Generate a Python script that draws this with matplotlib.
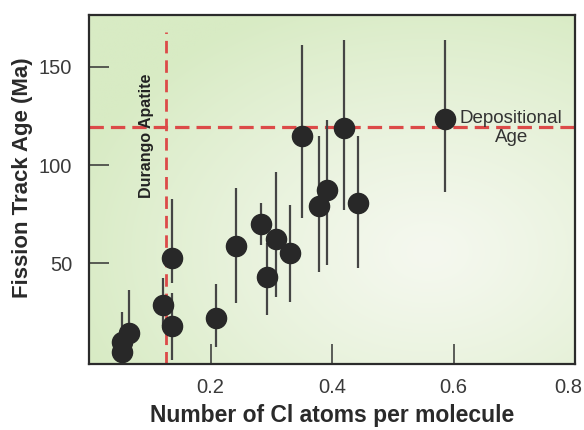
import numpy as np
import matplotlib
matplotlib.use("Agg")
import matplotlib.pyplot as plt
from matplotlib.colors import to_rgb
from matplotlib.transforms import ScaledTranslation

plt.rcParams['font.family'] = ['Liberation Sans', 'DejaVu Sans']

# Chlorine content and fission-track ages with their error-bar extents
cl_atoms = [0.055, 0.055, 0.066, 0.121, 0.137, 0.137, 0.209, 0.2415, 0.283,
            0.2935, 0.308, 0.331, 0.379, 0.392, 0.442, 0.351, 0.420, 0.586]
age_ma = [5.0, 10.1, 14.4, 28.8, 18.1, 52.8, 22.3, 58.8, 69.8,
          42.9, 62.4, 55.1, 79.1, 87.3, 80.8, 114.8, 118.7, 123.4]
age_low = [2.0, 0.0, 5.0, 18.0, 0.8, 40.0, 7.6, 29.7, 59.3,
           23.7, 33.0, 30.5, 45.7, 49.1, 47.5, 72.9, 77.1, 86.4]
age_high = [9.0, 25.4, 36.4, 42.5, 34.9, 82.6, 39.3, 88.1, 80.5,
            60.2, 96.6, 79.7, 114.8, 122.9, 114.8, 161.0, 163.6, 163.6]

x_ticks = [0.2, 0.4, 0.6, 0.8]
x_tick_labels = ['0.2', '0.4', '0.6', '0.8']
y_ticks = [50, 100, 150]

depositional_age = 119.3
durango_cl = 0.126
durango_top = 167.6

fig = plt.figure(figsize=(5.84, 4.30), dpi=100)
ax = fig.add_axes([89 / 584, 66 / 430, 486 / 584, 349 / 430])
ax.set_xlim(0, 0.8)
ax.set_ylim(-1.2, 176.3)

# soft radial green background
ny, nx = 200, 280
gx, gy = np.meshgrid(np.linspace(0, 1, nx), np.linspace(0, 1, ny))
d = np.sqrt(((gx - 0.70) / 0.9) ** 2 + ((gy - 0.32) / 0.9) ** 2)
t = np.clip(d / 0.85, 0, 1) ** 1.2
c_in = np.array(to_rgb('#f5f8ef'))
c_out = np.array(to_rgb('#d8ebc4'))
img = c_in[None, None, :] * (1 - t[..., None]) + c_out[None, None, :] * t[..., None]
ax.imshow(img, extent=[0, 1, 0, 1], transform=ax.transAxes, origin='lower',
          aspect='auto', zorder=0, interpolation='bilinear')

# reference lines
dash_red = '#dc4a48'
ax.axhline(depositional_age, color=dash_red, lw=2.3, dashes=(4.5, 2.2), zorder=2)
ax.plot([durango_cl, durango_cl], [-1.2, durango_top], color=dash_red, lw=2.0,
        dashes=(4.5, 2.5), zorder=2)

# data with vertical error bars
x = np.array(cl_atoms)
y = np.array(age_ma)
yerr = [y - np.array(age_low), np.array(age_high) - y]
ax.errorbar(x, y, yerr=yerr, fmt='o', ms=14.5, mfc='#282828', mec='#282828',
            ecolor='#454545', elinewidth=1.6, capsize=0, zorder=3)

# annotations
ax.text(0.0945, 114.7, 'Durango Apatite', rotation=90, ha='center', va='center',
        fontsize=11.5, fontweight='bold', color='#222222', zorder=4)
ax.text(0.695, 118.6, 'Depositional\nAge', ha='center', va='center',
        fontsize=13.5, color='#333333', linespacing=1.15, zorder=4)

# axes styling
for side in ['left', 'bottom', 'right', 'top']:
    ax.spines[side].set_color('#2b2b2b')
    ax.spines[side].set_linewidth(1.6)
    ax.spines[side].set_zorder(5)

ax.set_xticks(x_ticks)
ax.set_xticklabels(x_tick_labels)
ax.set_yticks(y_ticks)
ax.tick_params(direction='in', length=14.5, width=1.1, color='#333333',
               labelsize=14.5, labelcolor='#3a3a3a', pad=10)
ax.tick_params(axis='y', pad=12)
last = ax.get_xticklabels()[-1]
last.set_transform(last.get_transform() + ScaledTranslation(-7 / 100, 0, fig.dpi_scale_trans))

ax.set_xlabel('Number of Cl atoms per molecule', fontsize=16.5, fontweight='bold',
              color='#2a2a2a', labelpad=5)
ax.set_ylabel('Fission Track Age (Ma)', fontsize=16, fontweight='bold',
              color='#2a2a2a')
ax.yaxis.set_label_coords(-0.115, 0.535)

fig.savefig('out.png', dpi=100)
